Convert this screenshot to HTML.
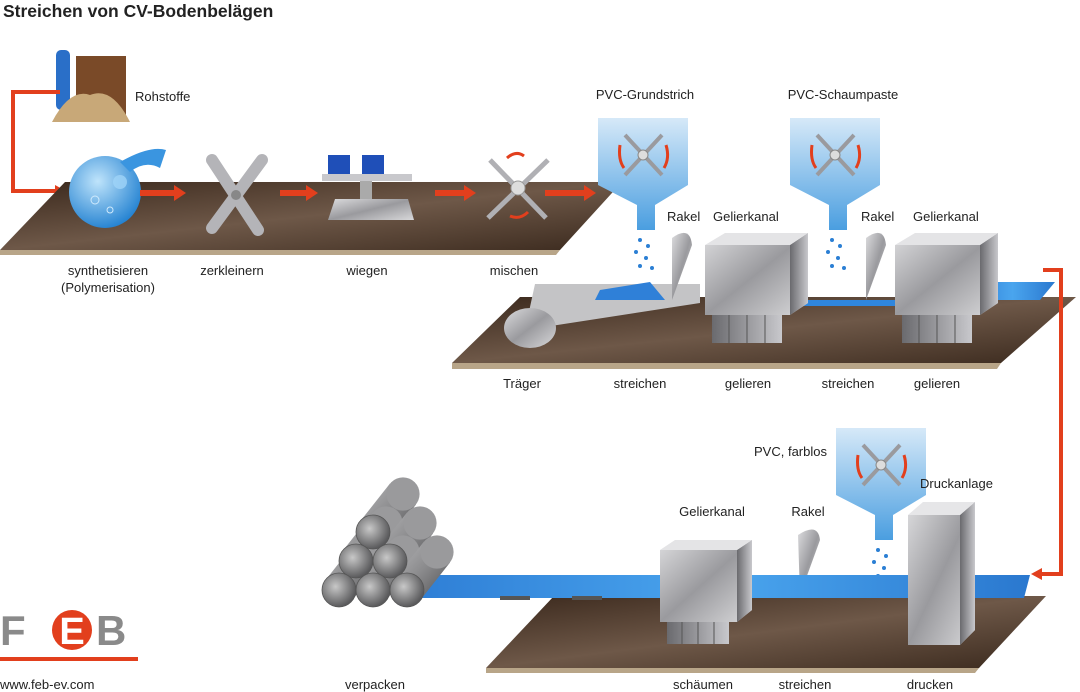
<!DOCTYPE html>
<html><head><meta charset="utf-8"><style>
html,body{margin:0;padding:0;background:#fff;}
svg{display:block;font-family:"Liberation Sans",sans-serif;}
</style></head><body>
<svg width="1080" height="692" viewBox="0 0 1080 692" xmlns="http://www.w3.org/2000/svg">
<defs>
<linearGradient id="brown" x1="0" y1="0" x2="1" y2="1">
<stop offset="0" stop-color="#3a281c"/><stop offset="0.5" stop-color="#6e5848"/><stop offset="1" stop-color="#3b2a1e"/></linearGradient>
<linearGradient id="metal" x1="0" y1="0" x2="1" y2="1">
<stop offset="0" stop-color="#dcdcde"/><stop offset="0.5" stop-color="#9a9a9e"/><stop offset="1" stop-color="#d8d8da"/></linearGradient>
<linearGradient id="metalD" x1="0" y1="0" x2="1" y2="0">
<stop offset="0" stop-color="#6a6a6e"/><stop offset="1" stop-color="#c8c8cc"/></linearGradient>
<linearGradient id="hop" x1="0" y1="0" x2="0" y2="1">
<stop offset="0" stop-color="#d6e9f8"/><stop offset="1" stop-color="#4a9ee0"/></linearGradient>
<linearGradient id="blue" x1="0" y1="0" x2="1" y2="0">
<stop offset="0" stop-color="#2f7fd6"/><stop offset="0.5" stop-color="#4aa5ee"/><stop offset="1" stop-color="#2a78cf"/></linearGradient>
<radialGradient id="flask" cx="0.4" cy="0.35" r="0.7">
<stop offset="0" stop-color="#bfe4fb"/><stop offset="1" stop-color="#1f7fd0"/></radialGradient>
<radialGradient id="pipe" cx="0.4" cy="0.4" r="0.6">
<stop offset="0" stop-color="#c8c8c8"/><stop offset="1" stop-color="#5a5a5c"/></radialGradient>
<linearGradient id="tube" x1="0" y1="0" x2="1" y2="1">
<stop offset="0" stop-color="#b8b8ba"/><stop offset="0.5" stop-color="#8a8a8c"/><stop offset="1" stop-color="#4e4e50"/></linearGradient>
<g id="tb"><polygon points="-13,-10.5 13,10.5 43,-27.5 17,-48.5" fill="url(#tube)"/><circle cx="30" cy="-38" r="16.6" fill="#9a9a9c"/></g>
</defs>

<text x="3" y="17" font-size="17.5" font-weight="bold" fill="#222">Streichen von CV-Bodenbelägen</text>

<rect x="76" y="56" width="50" height="62" fill="#7a4a28"/>
<rect x="56" y="50" width="14" height="60" rx="5" fill="#2a6fc8"/>
<path d="M52 122 Q70 88 90 95 Q112 86 130 122 Z" fill="#c8a878"/>
<text x="135" y="101" font-size="13" fill="#222">Rohstoffe</text>

<path d="M60 92 H13 V191 H56" fill="none" stroke="#e23f1d" stroke-width="4"/>
<polygon points="55,185 66,191 55,197" fill="#e23f1d"/>

<polygon points="0,250 65,182 622,182 560,250" fill="url(#brown)"/>
<polygon points="0,250 560,250 556,255 0,255" fill="#b8a588"/>

<circle cx="105" cy="192" r="36" fill="url(#flask)"/>
<path d="M120 162 Q150 145 166 150 L160 168 Q145 160 130 172 Z" fill="#3a95e0"/>
<circle cx="120" cy="182" r="7" fill="#9fd3f7" opacity=".8"/>
<circle cx="95" cy="200" r="4" fill="none" stroke="#cfeafd"/>
<circle cx="110" cy="210" r="3" fill="none" stroke="#cfeafd"/>

<g fill="#e23f1d">
<rect x="140" y="190" width="35" height="6"/><polygon points="174,185 186,193 174,201"/>
<rect x="280" y="190" width="27" height="6"/><polygon points="306,185 318,193 306,201"/>
<rect x="435" y="190" width="30" height="6"/><polygon points="464,185 476,193 464,201"/>
<rect x="545" y="190" width="40" height="6"/><polygon points="584,185 596,193 584,201"/>
</g>

<g stroke="#b4b4b8" stroke-width="12" stroke-linecap="round">
<line x1="212" y1="160" x2="258" y2="230"/><line x1="262" y1="160" x2="212" y2="228"/></g>
<circle cx="236" cy="195" r="5" fill="#888"/>
<rect x="328" y="155" width="22" height="20" fill="#1f4fb8"/><rect x="362" y="155" width="22" height="20" fill="#1f4fb8"/>
<rect x="322" y="174" width="90" height="7" fill="#c8c8cc"/>
<rect x="360" y="181" width="12" height="18" fill="#aaa"/>
<polygon points="328,220 414,220 408,199 335,199" fill="url(#metal)"/>
<g stroke="#b0b0b4" stroke-width="5"><line x1="490" y1="160" x2="546" y2="218"/><line x1="548" y1="160" x2="488" y2="218"/></g>
<circle cx="518" cy="188" r="7" fill="#ddd" stroke="#999"/>
<path d="M507 158 Q516 150 524 156" fill="none" stroke="#e23f1d" stroke-width="3"/>
<path d="M528 212 Q520 220 510 216" fill="none" stroke="#e23f1d" stroke-width="3"/>

<g font-size="13" fill="#222" text-anchor="middle">
<text x="108" y="275">synthetisieren</text><text x="108" y="292">(Polymerisation)</text>
<text x="232" y="275">zerkleinern</text><text x="367" y="275">wiegen</text><text x="514" y="275">mischen</text>
</g>

<polygon points="452,363 520,297 1076,297 1001,363" fill="url(#brown)"/>
<polygon points="452,363 1001,363 997,369 452,369" fill="#b8a588"/>
<polygon points="535,284 700,284 700,303 525,330" fill="#c4c4c6"/>
<ellipse cx="530" cy="328" rx="26" ry="20" fill="url(#metal)"/>
<polygon points="600,290 650,282 665,300 595,300" fill="#2f80d8"/>
<polygon points="790,300 905,300 902,306 788,306" fill="#2f86dd"/>
<polygon points="975,282 1055,282 1040,300 970,300" fill="url(#blue)"/>

<g id="hp">
<path d="M598 118 H688 V185 L655 205 V230 H637 V205 L598 185 Z" fill="url(#hop)"/>
<g stroke="#9a9a9e" stroke-width="4"><line x1="625" y1="135" x2="662" y2="175"/><line x1="662" y1="135" x2="625" y2="175"/></g>
<circle cx="643" cy="155" r="5" fill="#ddd" stroke="#888"/>
<path d="M620 145 Q618 160 624 168" fill="none" stroke="#e23f1d" stroke-width="3"/>
<path d="M666 145 Q670 158 664 168" fill="none" stroke="#e23f1d" stroke-width="3"/>
<g fill="#2b7fd4"><circle cx="640" cy="240" r="2"/><circle cx="648" cy="246" r="2"/><circle cx="636" cy="252" r="2"/><circle cx="646" cy="258" r="2"/><circle cx="640" cy="266" r="2"/><circle cx="652" cy="268" r="2"/></g>
</g>
<use href="#hp" transform="translate(192,0)"/>
<use href="#hp" transform="translate(238,310)"/>

<path d="M672 238 Q690 225 692 245 L672 300 Z" fill="url(#metal)"/>
<path d="M866 238 Q884 225 886 245 L866 300 Z" fill="url(#metal)"/>
<path d="M798 535 Q818 522 820 540 L800 595 Z" fill="url(#metal)"/>

<g id="box">
<polygon points="705,245 790,245 808,233 808,303 790,315 705,315" fill="url(#metal)"/>
<polygon points="790,245 808,233 808,303 790,315" fill="url(#metalD)"/>
<polygon points="705,245 725,233 808,233 790,245" fill="#e4e4e6"/>
<rect x="712" y="315" width="70" height="28" fill="url(#metalD)"/>
<g stroke="#555" stroke-width="1"><line x1="729" y1="315" x2="729" y2="343"/><line x1="747" y1="315" x2="747" y2="343"/><line x1="765" y1="315" x2="765" y2="343"/></g>
</g>
<use href="#box" transform="translate(190,0)"/>

<g font-size="13" fill="#222">
<text x="645" y="99" text-anchor="middle">PVC-Grundstrich</text>
<text x="843" y="99" text-anchor="middle">PVC-Schaumpaste</text>
<text x="667" y="221">Rakel</text><text x="713" y="221">Gelierkanal</text>
<text x="861" y="221">Rakel</text><text x="913" y="221">Gelierkanal</text>
</g>
<g font-size="13" fill="#222" text-anchor="middle">
<text x="522" y="388">Träger</text><text x="640" y="388">streichen</text><text x="748" y="388">gelieren</text>
<text x="848" y="388">streichen</text><text x="937" y="388">gelieren</text>
</g>

<path d="M1043 270 H1061 V574 H1040" fill="none" stroke="#e23f1d" stroke-width="4"/>
<polygon points="1042,568 1031,574 1042,580" fill="#e23f1d"/>

<polygon points="486,668 554,596 1046,596 979,668" fill="url(#brown)"/>
<polygon points="486,668 979,668 975,673 486,673" fill="#b8a588"/>
<polygon points="430,575 1030,575 1024,598 420,598" fill="url(#blue)"/>
<rect x="500" y="596" width="30" height="4" fill="#555"/><rect x="572" y="596" width="30" height="4" fill="#555"/>

<use href="#tb" transform="translate(373,532)"/>
<use href="#tb" transform="translate(356,561)"/>
<use href="#tb" transform="translate(390,561)"/>
<use href="#tb" transform="translate(339,590)"/>
<use href="#tb" transform="translate(373,590)"/>
<use href="#tb" transform="translate(407,590)"/>
<g fill="url(#pipe)" stroke="#555" stroke-width="0.8">
<circle cx="373" cy="532" r="17"/><circle cx="356" cy="561" r="17"/><circle cx="390" cy="561" r="17"/>
<circle cx="339" cy="590" r="17"/><circle cx="373" cy="590" r="17"/><circle cx="407" cy="590" r="17"/>
</g>

<polygon points="660,550 737,550 752,540 752,610 737,622 660,622" fill="url(#metal)"/>
<polygon points="737,550 752,540 752,610 737,622" fill="url(#metalD)"/>
<polygon points="660,550 675,540 752,540 737,550" fill="#e4e4e6"/>
<rect x="667" y="622" width="62" height="22" fill="url(#metalD)"/>
<g stroke="#555" stroke-width="1"><line x1="682" y1="622" x2="682" y2="644"/><line x1="698" y1="622" x2="698" y2="644"/><line x1="714" y1="622" x2="714" y2="644"/></g>
<polygon points="908,515 960,515 975,502 975,630 960,645 908,645" fill="url(#metal)"/>
<polygon points="960,515 975,502 975,630 960,645" fill="url(#metalD)"/>
<polygon points="908,515 923,502 975,502 960,515" fill="#e6e6e8"/>

<g font-size="13" fill="#222">
<text x="827" y="456" text-anchor="end">PVC, farblos</text>
<text x="920" y="488">Druckanlage</text>
<text x="712" y="516" text-anchor="middle">Gelierkanal</text>
<text x="808" y="516" text-anchor="middle">Rakel</text>
</g>
<g font-size="13" fill="#222" text-anchor="middle">
<text x="375" y="689">verpacken</text><text x="703" y="689">schäumen</text>
<text x="805" y="689">streichen</text><text x="930" y="689">drucken</text>
</g>

<text x="0" y="645" font-size="42" font-weight="bold" fill="#8a8a8a">F</text>
<circle cx="72" cy="630" r="20" fill="#e23f1d"/>
<text x="72" y="644" font-size="38" font-weight="bold" fill="#fff" text-anchor="middle">E</text>
<text x="96" y="645" font-size="42" font-weight="bold" fill="#8a8a8a">B</text>
<rect x="0" y="657" width="138" height="4" fill="#e23f1d"/>
<text x="0" y="689" font-size="13" fill="#222">www.feb-ev.com</text>
</svg>
</body></html>
